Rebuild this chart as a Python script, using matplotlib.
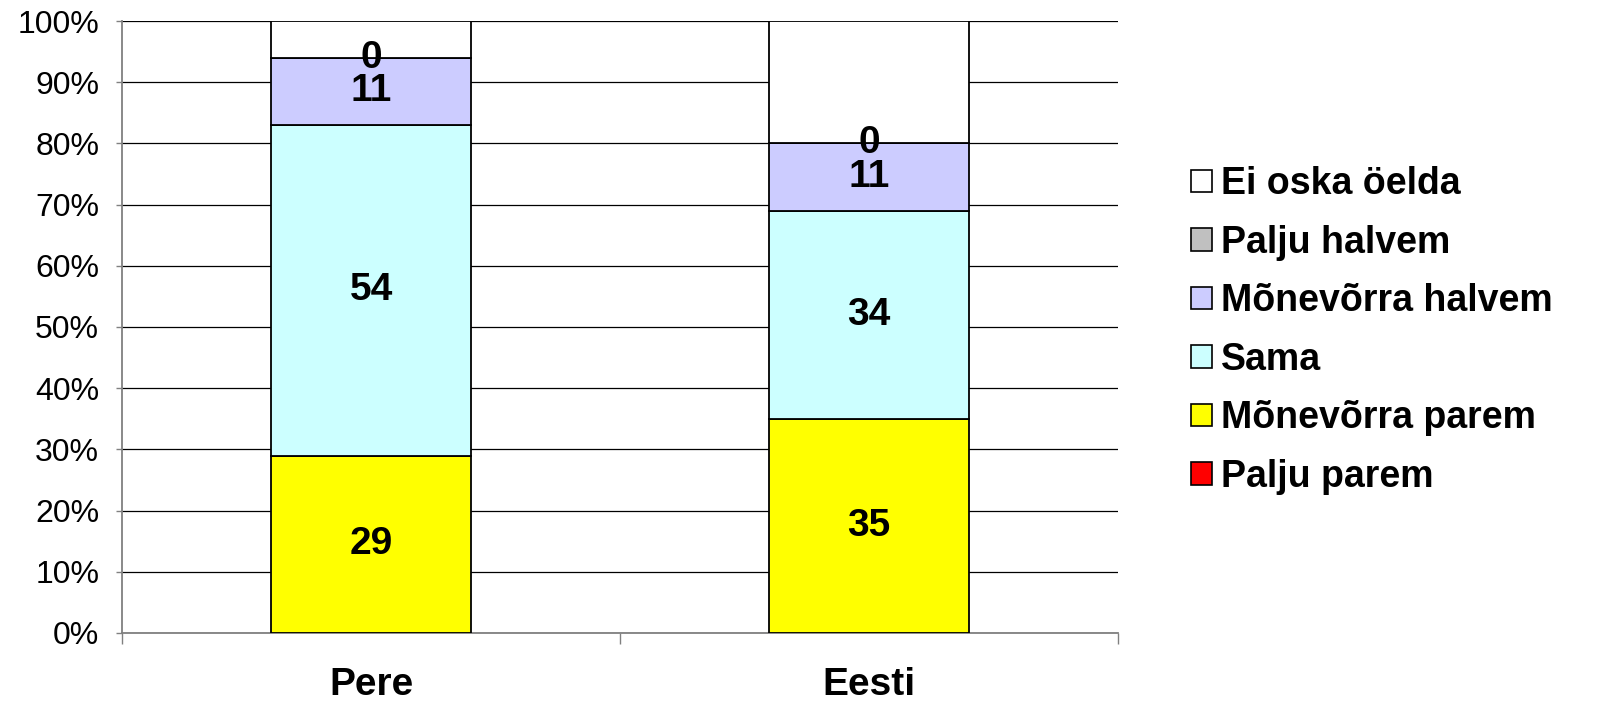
import numpy as np
import matplotlib.pyplot as plt
from matplotlib.patches import Patch

plt.rcParams['font.family'] = ['Liberation Sans', 'DejaVu Sans']

# Data (percent)
categories = ['Pere', 'Eesti']
series_names = ['Palju parem', 'Mõnevõrra parem', 'Sama', 'Mõnevõrra halvem', 'Palju halvem', 'Ei oska öelda']
palju_parem = [0, 0]
monevorra_parem = [29, 35]
sama = [54, 34]
monevorra_halvem = [11, 11]
palju_halvem = [0, 0]
ei_oska = [6, 20]

series = [palju_parem, monevorra_parem, sama, monevorra_halvem, palju_halvem, ei_oska]
colors = ['#ff0000', '#ffff00', '#ccffff', '#ccccff', '#c0c0c0', '#ffffff']
show_label = [False, True, True, True, True, False]

fig = plt.figure(figsize=(16.21, 7.22), dpi=100)
ax = fig.add_axes([0.0753, 0.1233, 0.6144, 0.8476])

x = np.arange(len(categories))
bottom = np.zeros(len(categories))
for vals, col, show in zip(series, colors, show_label):
    vals = np.array(vals, dtype=float)
    ax.bar(x, vals, 0.4, bottom=bottom, color=col, edgecolor='black', linewidth=1.3, zorder=3)
    if show:
        for xi, b, v in zip(x, bottom, vals):
            ax.text(xi, b + v / 2, f'{int(v)}', ha='center', va='center',
                    fontsize=28, fontweight='bold', zorder=4)
    bottom += vals

ax.set_xlim(-0.5, 1.5)
ax.set_ylim(0, 100)
ax.set_yticks(np.arange(0, 101, 10))
ax.set_yticklabels([f'{v}%' for v in range(0, 101, 10)], fontsize=23)
ax.yaxis.grid(True, color='black', linewidth=0.9, zorder=0)

# category labels, ticks at boundaries
ax.set_xticks([-0.5, 0.5, 1.5])
ax.set_xticklabels([])
ax.tick_params(axis='x', length=8, color='#808080', width=1)
ax.tick_params(axis='y', length=4.5, color='#808080', width=1, pad=12)
for xi, c in zip(x, categories):
    ax.text(xi, -0.085, c, transform=ax.get_xaxis_transform(), ha='center', va='center',
            fontsize=28, fontweight='bold')

for s in ['top', 'right']:
    ax.spines[s].set_visible(False)
ax.spines['left'].set_color('#808080')
ax.spines['bottom'].set_color('#808080')
ax.spines['left'].set_linewidth(1.3)
ax.spines['bottom'].set_linewidth(1.3)

handles = [Patch(facecolor=c, edgecolor='black', linewidth=1.2, label=n)
           for n, c in zip(series_names, colors)][::-1]
leg = fig.legend(handles=handles, loc='center left', bbox_to_anchor=(0.735, 0.542),
                 frameon=False, prop={'size': 27, 'weight': 'bold'},
                 handlelength=0.55, handleheight=0.55, handletextpad=0.25,
                 labelspacing=0.6, borderaxespad=0, borderpad=0)

fig.savefig('out.png', dpi=100)
